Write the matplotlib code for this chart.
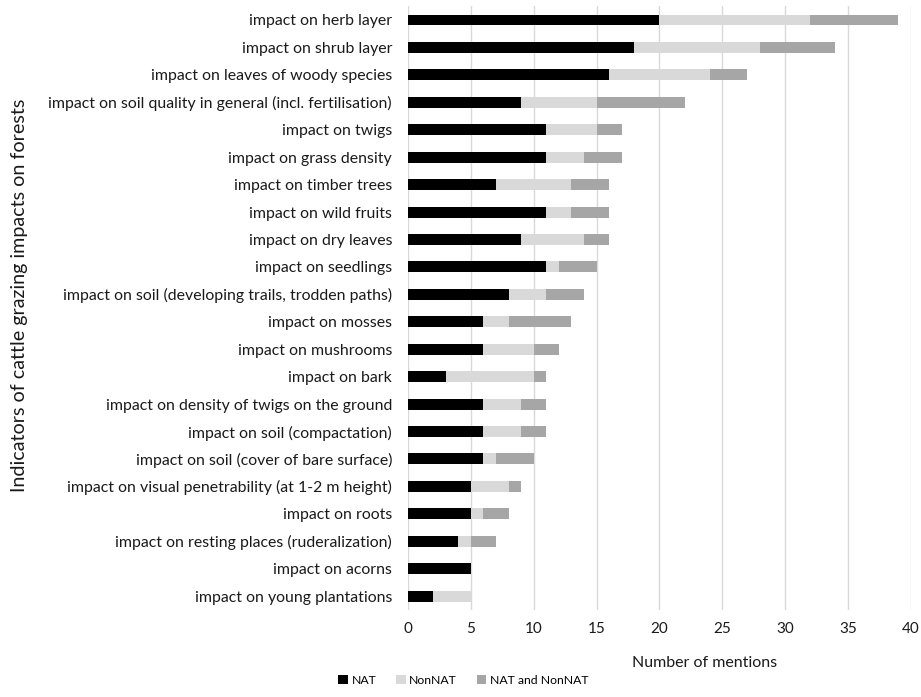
import numpy as np
import matplotlib
matplotlib.use("Agg")
import matplotlib.pyplot as plt

plt.rcParams["font.family"] = ["Lato", "DejaVu Sans"]

categories = [
    "impact on herb layer",
    "impact on shrub layer",
    "impact on leaves of woody species",
    "impact on soil quality in general (incl. fertilisation)",
    "impact on twigs",
    "impact on grass density",
    "impact on timber trees",
    "impact on wild fruits",
    "impact on dry leaves",
    "impact on seedlings",
    "impact on soil (developing trails, trodden paths)",
    "impact on mosses",
    "impact on mushrooms",
    "impact on bark",
    "impact on density of twigs on the ground",
    "impact on soil (compactation)",
    "impact on soil (cover of bare surface)",
    "impact on visual penetrability (at 1-2 m height)",
    "impact on roots",
    "impact on resting places (ruderalization)",
    "impact on acorns",
    "impact on young plantations",
]
nat = [20, 18, 16, 9, 11, 11, 7, 11, 9, 11, 8, 6, 6, 3, 6, 6, 6, 5, 5, 4, 5, 2]
nonnat = [12, 10, 8, 6, 4, 3, 6, 2, 5, 1, 3, 2, 4, 7, 3, 3, 1, 3, 1, 1, 0, 3]
both = [7, 6, 3, 7, 2, 3, 3, 3, 2, 3, 3, 5, 2, 1, 2, 2, 3, 1, 2, 2, 0, 0]

series = [("NAT", nat, "#000000"),
          ("NonNAT", nonnat, "#d9d9d9"),
          ("NAT and NonNAT", both, "#a6a6a6")]

fig = plt.figure(figsize=(9.21, 6.97), dpi=100)
ax = fig.add_axes([0.443, 0.125, 0.546, 0.866])

y = np.arange(len(categories))[::-1]
left = np.zeros(len(categories))
for name, vals, color in series:
    ax.barh(y, vals, left=left, height=0.4, color=color, label=name)
    left += np.array(vals)

ax.set_yticks(y)
ax.set_yticklabels(categories, fontsize=11.4, color="#1a1a1a")
ax.set_ylim(-0.5, len(categories) - 0.5)
ax.set_xlim(0, 40)
ax.set_xticks(range(0, 41, 5))
ax.tick_params(axis="x", labelsize=11, colors="#1a1a1a", length=0, pad=9)
ax.tick_params(axis="y", length=0, pad=11.5)
ax.grid(axis="x", color="#d9d9d9", linewidth=1)
ax.set_axisbelow(True)
for s in ax.spines.values():
    s.set_visible(False)

fig.text(705 / 921, 1 - 663 / 697, "Number of mentions",
         fontsize=11.5, ha="center", va="center", color="#1a1a1a")
fig.text(20 / 921, 1 - 295 / 697, "Indicators of cattle grazing impacts on forests",
         rotation=90, fontsize=14.2, ha="center", va="center", color="#1a1a1a")

fig.legend(loc="center", bbox_to_anchor=(0.503, 1 - 680 / 697), ncol=3,
           frameon=False, fontsize=8.8, handlelength=0.8, handleheight=0.8,
           columnspacing=1.6, handletextpad=0.3)

plt.savefig("out.png", dpi=100)
